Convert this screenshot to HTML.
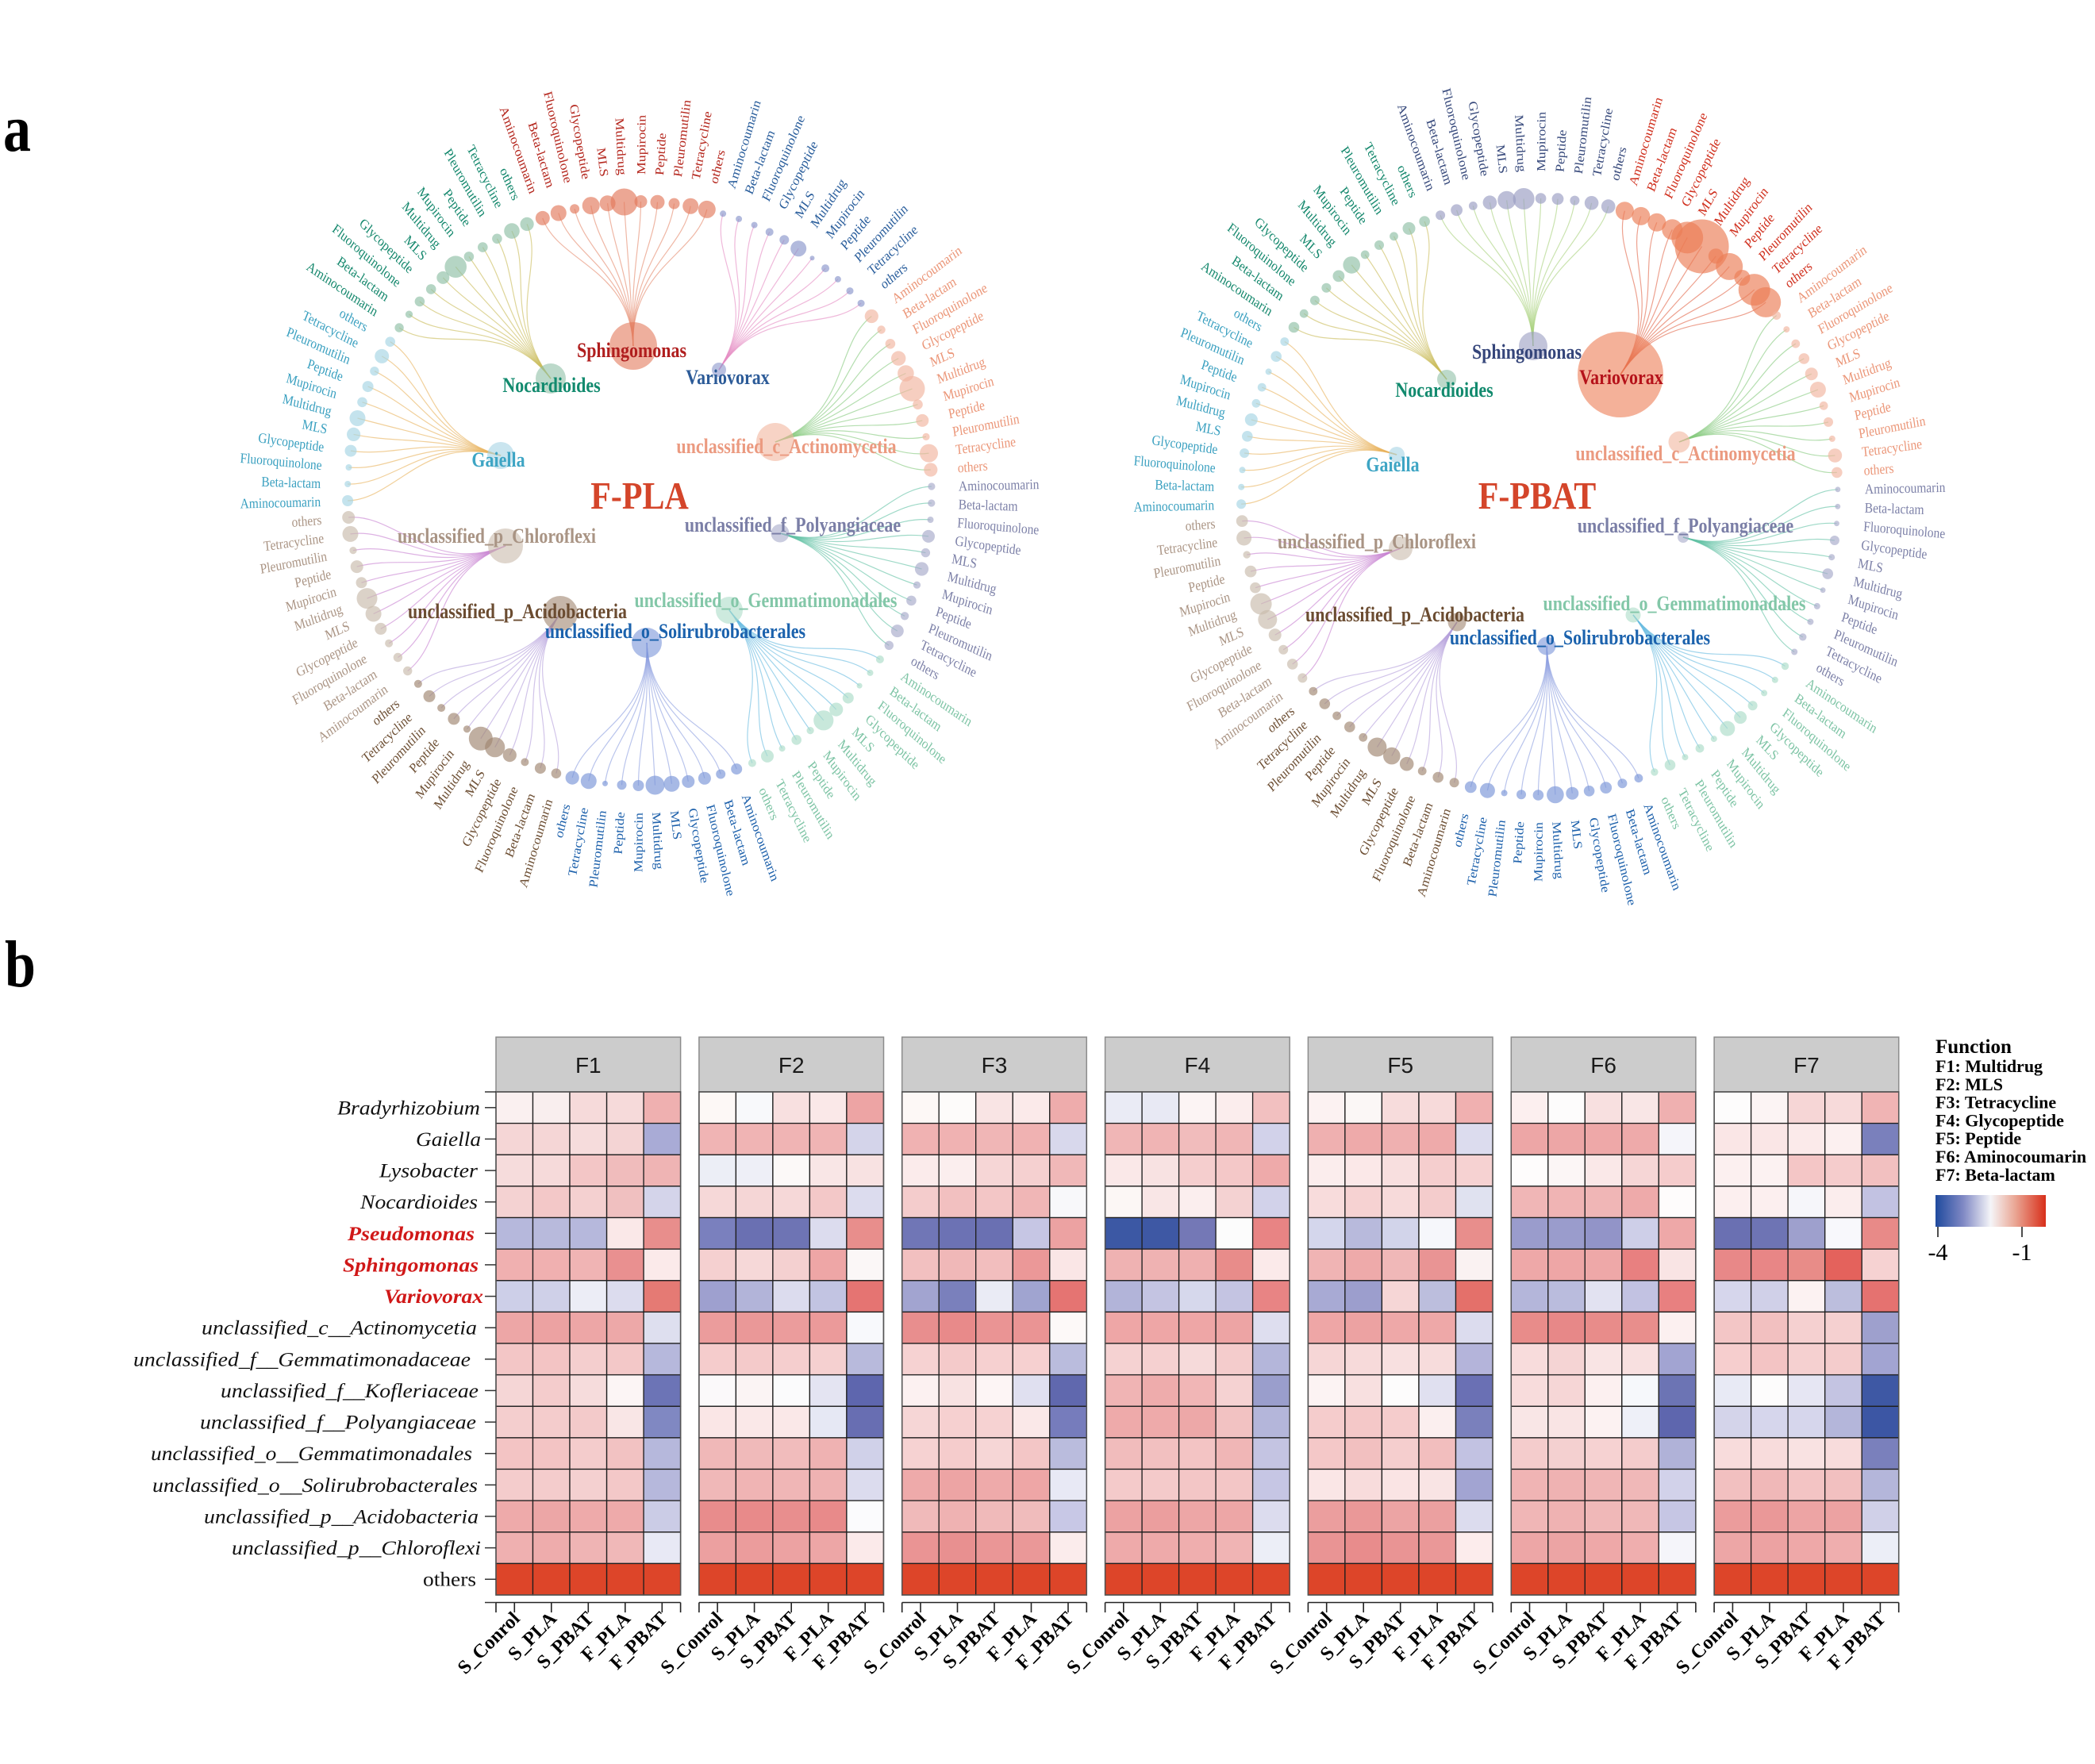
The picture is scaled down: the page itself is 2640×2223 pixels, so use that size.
<!DOCTYPE html>
<html><head><meta charset="utf-8"><title>chart</title>
<style>html,body{margin:0;padding:0;background:#fff;overflow:hidden}svg{display:block}</style>
</head><body>
<svg id="c" xmlns="http://www.w3.org/2000/svg" width="2640" height="2223" viewBox="0 0 2640 2223"></svg>
<script>
(function(){
var o=[];
var SER="font-family=\"'Liberation Serif', serif\"";
var SANS="font-family=\"'Liberation Sans', sans-serif\"";
var CL=['Aminocoumarin','Beta-lactam','Fluoroquinolone','Glycopeptide','MLS','Multidrug','Mupirocin','Peptide','Pleuromutilin','Tetracycline','others'];
var GN=['Sphingomonas','Variovorax','unclassified_c_Actinomycetia','unclassified_f_Polyangiaceae','unclassified_o_Gemmatimonadales','unclassified_o_Solirubrobacterales','unclassified_p_Acidobacteria','unclassified_p_Chloroflexi','Gaiella','Nocardioides'];
function G(n,l,lc,bc,kc,tc,s){return {n:n,l:l,lc:lc,bc:bc,kc:kc,tc:tc,s:s};}
var P1={cx:806,cy:622,R:368,t0:-19.4,title:'F-PLA',tx:806,ty:641,g:[
 G([798,436,30],[796,450],'#b01e1e','#e27a5c','#e58a6e','#b5281f',[9,10,6,11,10,17,8,9,7,10,11]),
 G([906,466,9],[917,484],'#2c5b98','#8a96cc','#e58cc4','#2a5e9c',[4,4,4,5,6,10,3,5,4,4.5,4.5]),
 G([977,557,24],[991,571],'#eb9a80','#f2b59f','#86c97e','#eb9678',[8.6,5.2,6.3,9.2,10.3,16,6.3,8,4.6,11.5,8.6]),
 G([983,672,11.5],[999,670],'#7a7ea6','#a7aaca','#62c2a4','#7d81a8',[4.6,4.6,4,8,5.7,8.6,4.6,6.3,5.2,8,5.7]),
 G([919,769,17],[965,765],'#83c7a8','#acdcc8','#69bce0','#7ec4a5',[5,4,3.5,7,8.6,12.6,4.6,6.3,4,8,5]),
 G([815,810,19],[851,804],'#1b62ad','#7a94d8','#8ea0e0','#1f62ac',[7,6,8,8,10,12,7,6,3.5,10,8.6]),
 G([706,773,22],[652,779],'#6b4c31','#a08670','#b5a0dc','#6e5035',[6.3,7,5,8.6,12.6,15,4.6,7.5,5,7.5,5]),
 G([637,688,22],[626,684],'#a99484','#c9baac','#c882d2','#ab9585',[5.7,5.7,5,7.5,10,13,7,8,4.6,10,8]),
 G([631,574,17],[628,588],'#3ea5c4','#a6d4e4','#e9b35e','#3aa0c0',[7,4,4,7.5,8.6,10,6.3,7,5.7,9,6.3]),
 G([694,477,19],[695,494],'#128a6e','#8fbfa6','#c9bb58','#15886d',[5.7,4.6,6.3,6.3,8,13.8,6.3,6.3,6.3,9.8,8.6])
]};
var P2={cx:1940,cy:626,R:376,t0:-19.4,title:'F-PBAT',tx:1937,ty:641,g:[
 G([1932,436,18],[1924,452],'#35457a','#9a9cc2','#a9d27e','#384a7c',[6,7.4,5.4,8.8,11.5,13.5,6.8,7.4,6,8.8,8.8]),
 G([2042,472,54],[2043,484],'#b5121a','#ec7d55','#e2684a','#d0301e',[11.5,11.5,11.5,13,20,34,9.5,17,10,20,19]),
 G([2116,557,13.5],[2124,580],'#eb9a80','#f2b59f','#86c97e','#eb9678',[5.4,4,5.4,6.8,8,10,5.4,6,4,8.8,6.8]),
 G([2121,677,7],[2124,671],'#7a7ea6','#a7aaca','#62c2a4','#7d81a8',[3.4,3.4,3.4,6,4,6.8,3.4,4,4,4.7,4]),
 G([2058,775,9.5],[2110,769],'#83c7a8','#acdcc8','#69bce0','#7ec4a5',[4.7,4,4,6,8,9.5,4,5.4,4,6.8,4.7]),
 G([1949,814,11.5],[1991,812],'#1b62ad','#7a94d8','#8ea0e0','#1f62ac',[5.4,6,7.4,6.8,8,10.8,6.8,6,4,9.5,7.4]),
 G([1836,784,11.5],[1783,783],'#6b4c31','#a08670','#b5a0dc','#6e5035',[6,6.8,5.4,8.8,10.8,12,5.4,6.8,5.4,6.8,5.4]),
 G([1765,691,15],[1735,691],'#a99484','#c9baac','#c882d2','#ab9585',[6,6.8,6,8,12,13.5,6.8,7.4,4.7,9.5,7.4]),
 G([1760,573,10],[1755,594],'#3ea5c4','#a6d4e4','#e9b35e','#3aa0c0',[6,4,4,6,6.8,8,5.4,5.4,4,6.8,5.4]),
 G([1823,478,12],[1820,500],'#128a6e','#8fbfa6','#c9bb58','#15886d',[6.8,5.4,6,6,7.4,10.8,5.4,6,5.4,8,6.8])
]};
function f(v){return Math.round(v*10)/10;}
var SY=1.15;
function radial(P){
 var L=[],B=[],N=[],TL=[],NL=[];
 for(var g=0;g<10;g++){
  var Q=P.g[g], nx=Q.n[0], ny=Q.n[1];
  var ux=nx-P.cx, uy=ny-P.cy, ul=Math.hypot(ux,uy)||1; ux/=ul; uy/=ul;
  for(var k=0;k<11;k++){
   var i=g*11+k, th=(P.t0+i*360/110)*Math.PI/180;
   var s=Math.sin(th), c=Math.cos(th);
   var lx=P.cx+P.R*s, ly=P.cy-P.R*c;
   var d=Math.hypot(lx-nx,ly-ny);
   var c1x=nx+ux*d*0.5, c1y=ny+uy*d*0.5;
   var c2x=lx-s*d*0.3, c2y=ly+c*d*0.3;
   L.push('<path d="M'+f(nx)+' '+f(ny)+'C'+f(c1x)+' '+f(c1y)+' '+f(c2x)+' '+f(c2y)+' '+f(lx)+' '+f(ly)+'" stroke="'+Q.kc+'"/>');
   B.push('<circle cx="'+f(lx)+'" cy="'+f(ly)+'" r="'+Q.s[k]+'" fill="'+Q.bc+'"/>');
   var rl=P.R+34, tx=P.cx+rl*s, ty=P.cy-rl*c;
   var dx=s, dy=-c, anc='start';
   if(s<0){dx=-s;dy=c;anc='end';}
   var ang=Math.atan2(dy/SY,dx)*180/Math.PI;
   TL.push('<text transform="translate('+f(tx)+','+f(ty)+') scale(1,'+SY+') rotate('+f(ang)+')" text-anchor="'+anc+'" dy="0.35em" fill="'+Q.tc+'">'+CL[k]+'</text>');
  }
  N.push('<circle cx="'+nx+'" cy="'+ny+'" r="'+Q.n[2]+'" fill="'+Q.bc+'"/>');
  NL.push('<text transform="translate('+Q.l[0]+','+Q.l[1]+') scale(1,1.2)" text-anchor="middle" fill="'+Q.lc+'">'+GN[g]+'</text>');
 }
 o.push('<g fill="none" stroke-width="1.2" stroke-opacity="0.62">'+L.join('')+'</g>');
 o.push('<g fill-opacity="0.66">'+B.join('')+'</g>');
 o.push('<g fill-opacity="0.6">'+N.join('')+'</g>');
 o.push('<g '+SER+' font-size="15.5">'+TL.join('')+'</g>');
 o.push('<g '+SER+' font-size="22" font-weight="bold">'+NL.join('')+'</g>');
 o.push('<text transform="translate('+P.tx+','+P.ty+') scale(1,1.15)" text-anchor="middle" '+SER+' font-size="42" font-weight="bold" fill="#d4452a">'+P.title+'</text>');
}
radial(P1); radial(P2);
o.push('<text transform="translate(4,190) scale(1,1.2)" '+SER+' font-size="70" font-weight="bold" fill="#000">a</text>');
o.push('<text transform="translate(6,1243) scale(1,1.2)" '+SER+' font-size="70" font-weight="bold" fill="#000">b</text>');

/* heatmap */
var HM=[
["faf0f0 f9eeee f6dada f6dada efb0b0","f5d6d6 f5d6d6 f6dcdc f4d4d4 a9abd6","f6dcdc f6dada f3c6c6 f0bcbc efb4b4","f4d2d2 f3c8c8 f4d0d0 f0c0c0 d4d4ea","b6b8dc b8badc b6b8dc fae8e8 e88e8c","f0b0b0 f0b0b0 f0b4b4 e99090 fbeaea","cdcfe8 cfd0e8 ecedf6 dcdcee e57a74","eda6a6 eca2a2 eda6a6 eda8a8 dedfef","f3c6c6 f3c4c4 f4cece f3c8c8 b6b8dc","f5d6d6 f4cccc f6dcdc fcf5f5 6c74b6","f4cece f4cccc f3caca f9e6e6 8088c2","f3c4c4 f3c4c4 f4cccc f2c2c2 b6b8dc","f4cccc f4cccc f4d0d0 f3c8c8 b6b8dc","eeaaaa eca6a6 eeaaaa eeaaaa cbcce6","efb0b0 eeacac efb4b4 f0b8b8 e8e9f5"],
["fdf8f6 f8f9fb f8e0e0 fae8e8 eda4a4","f0b4b4 f0b4b4 f0b4b4 f0b4b4 d4d4ea","eceef6 eeeff7 fcf9f8 f9e6e6 f8e2e2","f6d8d8 f5d6d6 f6d8d8 f3c8c8 dcdcee","7a80be 6a70b2 6e74b4 dcdcee e88e8c","f5d0d0 f6d8d8 f4d0d0 eea6a6 fbf7f7","9ea0cf b2b4d9 dcdcee c2c4e2 e57472","eb9c9c ea9898 eb9c9c eb9a9a f8f9fc","f5cccc f4caca f5cece f5d0d0 b8badc","fbf9fa fbf4f4 fbfbfc e4e4f2 5e66ae","fae6e6 fae8e8 fae8e8 e6e8f4 686eb2","f0b8b8 f0baba f1bcbc efb2b2 d0d1e9","f0b8b8 f0b4b4 f0b6b6 efb2b2 dcdcee","e88c8c e88a8a e88e8e e88a8a fbfbfd","eca0a0 eb9c9c eca2a2 eda6a6 fbeaea"],
["fdf8f6 fdfbfa f9e4e4 fbeaea eeacac","f0b2b2 f0b2b2 f0b6b6 f0b2b2 d8d8ec","fbebeb fbeeee f6d6d6 f5d0d0 f0b8b8","f4cccc f2c0c0 f3c6c6 f0b6b6 f8f8fa","7076b6 6c72b4 6a70b2 c6c6e4 eca2a2","f2c0c0 f0b8b8 f2bebe eb9898 fae6e6","a2a4d0 7a80bc eaebf5 a0a4d0 e57472","e88e8e e88a8a ea9494 ea9494 fdf9f8","f6d2d2 f4caca f6d0d0 f6d0d0 babcdd","fcf1f1 f8e2e2 fdf5f5 e0e0f0 6068ae","f6d6d6 f6d0d0 f6d2d2 fae8e8 767cbc","f6d2d2 f5cccc f6d6d6 f3c6c6 babcdd","eeaaaa eda4a4 eeaaaa eea6a6 e8e9f5","f0baba efb2b2 f0baba f0bcbc c8c8e6","ea9494 e89090 ea9696 ea9898 fbecec"],
["eaebf5 e8e9f4 fcf4f4 fbeded f2c0c0","f0b6b6 f0b4b4 f1bcbc f0b6b6 d2d2ea","fae8e8 f8e2e2 f5cece f4c8c8 eeaaaa","fcf7f5 f9e6e6 fbeeee f4d2d2 d2d2ea","3c58a4 3e58a4 7478b6 fcfcfc e88484","efb2b2 efb2b2 efb0b0 e88c8a fbeaea","b2b4d9 c4c4e2 d6d8ec c4c4e2 e88484","eea6a6 eea6a6 eea6a6 eda4a4 dedeef","f5d2d2 f5d0d0 f6dada f4cccc b4b6da","f0b4b4 eeacac f1b6b6 f5d2d2 9a9ecc","eeaaaa eeaaaa eda8a8 f2c2c2 b4b6da","f1bcbc f2c0c0 f3c4c4 f0b6b6 c4c4e2","f4caca f4caca f3c6c6 f3c6c6 c6c6e4","eca2a2 eb9e9e eda6a6 eda6a6 dcdcee","eeaaaa eeaaaa efaeae f0b4b4 eceef7"],
["fcf2f2 fbf7f6 f7dcdc f7dada f0b0b0","efb0b0 eeaaaa efb0b0 eeaaaa dcdcee","fbeded fbe8e8 f8dfdf f5cece f6d2d2","f8dcdc f6d2d2 f7dada f4cccc e0e2f0","d4d6ec b8badc d2d4ea f6f7fb e88e8c","f0b4b4 eeaaaa f0b8b8 e99494 faf2f2","a8aad4 9c9ecd f6d6d6 bcbedd e4706a","eea6a6 eca2a2 eea8a8 eea8a8 dcdcee","f6d6d6 f7dada f8e0e0 f7dcdc b4b4da","fcf3f3 f8e0e0 fdfcfc e0e0f0 6a70b4","f5cccc f4c8c8 f5cccc fbefef 7a80bc","f4c8c8 f2c0c0 f5cece f2bebe c2c2e2","fae6e6 f8dcdc fae4e4 f9e4e4 a2a4d2","eb9e9e ea9898 eca4a4 eba0a0 dcdcee","e99494 e88c8c e99494 ea9898 fcecec"],
["fcefef fdfcfc f8e0e0 f9e6e6 efb0b0","eda6a6 eda6a6 eea8a8 eeaaaa f5f5fa","fefcfc fcf6f6 fae8e8 f6d6d6 f5cccc","f0b6b6 f0b4b4 f0b6b6 eeaaaa fefcfc","9a9ccc 9a9ccc 9294c8 cecfe8 eea8a8","eea8a8 eea6a6 eea8a8 e88080 f9e4e4","b4b6da babcdd e2e2f1 c2c2e2 e88080","e88c8a e78888 e88c8a e88e8c fcf0f0","f8dcdc f5d4d4 f9e4e4 f8e0e0 a2a4d2","f8dcdc f6d6d6 fcf0f0 f6f8fb 6c74b4","f9e6e6 f9e4e4 fcf2f2 eef0f8 5e66ae","f4cccc f4d0d0 f6d2d2 f4cccc b0b2d8","f0b4b4 efb2b2 f0b6b6 f0b8b8 d2d2ea","f0b6b6 efb2b2 f0b8b8 f0b8b8 c6c6e4","eda6a6 eca4a4 eea8a8 efaeae f5f5fa"],
["fdfcfc fcf4f4 f6d6d6 f7dada f0b4b4","fae6e6 fae6e6 fbeaea fcf0f0 7a80bc","fcf0f0 fcf2f2 f4c6c6 f5cccc f2c0c0","fcefef fcefef f6f6fa fbeded c2c2e2","6a70b2 6e74b4 9ea0cd f8f8fc e88a88","e88888 e88686 e88c88 e4625c f6d2d2","d6d6ec d0d0e8 fcf2f2 bcbedd e57270","f3c6c6 f2c0c0 f5d0d0 f5d0d0 9ea0cd","f6cece f3c4c4 f5d0d0 f4cccc a2a4d2","e8eaf5 fdfcfc e6e6f3 c4c4e2 3e58a4","d4d4ea d6d6ec d6d6ec b4b6da 3c56a4","f8dcdc f8dcdc f9e2e2 f8dcdc 7a80bc","f2c0c0 f0b8b8 f3c4c4 f2c0c0 b4b6da","eb9c9c ea9898 eda4a4 eca2a2 d0d0e8","eda6a6 eca2a2 eea8a8 efaeae eceef7"]
];
var X0=625, PS=255.85, PW=232.6, CW=PW/5, HT=1307, TOP=1376, RH=39.625, BOT=TOP+16*RH;
var XL=['S_Conrol','S_PLA','S_PBAT','F_PLA','F_PBAT'];
for(var p=0;p<7;p++){
 var x0=X0+p*PS;
 o.push('<rect x="'+f(x0)+'" y="'+HT+'" width="'+PW+'" height="'+(TOP-HT)+'" fill="#cccccc" stroke="#8c8c8c" stroke-width="1.5"/>');
 o.push('<text x="'+f(x0+PW/2)+'" y="1352" text-anchor="middle" '+SANS+' font-size="28" fill="#1a1a1a">F'+(p+1)+'</text>');
 var cells=[];
 for(var r=0;r<16;r++){
  var cols = r<15 ? HM[p][r].split(' ') : ['dd4529','dd4529','dd4529','dd4529','dd4529'];
  for(var c=0;c<5;c++){
   cells.push('<rect x="'+f(x0+c*CW)+'" y="'+f(TOP+r*RH)+'" width="'+f(CW)+'" height="'+f(RH)+'" fill="#'+cols[c]+'"/>');
  }
 }
 o.push('<g stroke="#1e1e1e" stroke-width="1.3">'+cells.join('')+'</g>');
 o.push('<rect x="'+f(x0)+'" y="'+TOP+'" width="'+PW+'" height="'+f(BOT-TOP)+'" fill="none" stroke="#555" stroke-width="1.5"/>');
 var ax='<g stroke="#222" stroke-width="1.6"><line x1="'+f(x0)+'" y1="2019.5" x2="'+f(x0+PW)+'" y2="2019.5"/>';
 ax+='<line x1="'+f(x0)+'" y1="2019.5" x2="'+f(x0)+'" y2="2032"/><line x1="'+f(x0+PW)+'" y1="2019.5" x2="'+f(x0+PW)+'" y2="2032"/>';
 for(var c=0;c<5;c++){var cx=x0+(c+0.5)*CW; ax+='<line x1="'+f(cx)+'" y1="2019.5" x2="'+f(cx)+'" y2="2032"/>';}
 o.push(ax+'</g>');
 for(var c=0;c<5;c++){
  var cx=x0+(c+0.5)*CW;
  o.push('<text transform="translate('+f(cx+8)+',2041) rotate(-45)" text-anchor="end" '+SER+' font-size="24.5" font-weight="bold" fill="#000">'+XL[c]+'</text>');
 }
}
/* row labels */
var RL=[['Bradyrhizobium',605,180,0],['Gaiella',606,82,0],['Lysobacter',602,124,0],['Nocardioides',602,148,0],['Pseudomonas',598,160,1],['Sphingomonas',603,171,1],['Variovorax',609,125,1],['unclassified_c__Actinomycetia',601,347,0],['unclassified_f__Gemmatimonadaceae',593,425,0],['unclassified_f__Kofleriaceae',603,325,0],['unclassified_f__Polyangiaceae',600,348,0],['unclassified_o__Gemmatimonadales',595,405,0],['unclassified_o__Solirubrobacterales',602,410,0],['unclassified_p__Acidobacteria',603,346,0],['unclassified_p__Chloroflexi',606,314,0],['others',600,67,2]];
var rt='<g stroke="#333" stroke-width="1.5"><line x1="611" y1="'+TOP+'" x2="625" y2="'+TOP+'"/><line x1="611" y1="2019.5" x2="625" y2="2019.5"/>';
for(var r=0;r<16;r++){
 var yc=TOP+(r+0.5)*RH, R0=RL[r];
 rt+='<line x1="611" y1="'+f(yc)+'" x2="625" y2="'+f(yc)+'"/>';
 var st = R0[3]==2 ? '' : ' font-style="italic"';
 if(R0[3]==1) st+=' font-weight="bold"';
 var col = R0[3]==1 ? '#d01818' : '#111';
 o.push('<text x="'+R0[1]+'" y="'+f(yc+8.5)+'" text-anchor="end" '+SER+' font-size="25"'+st+' fill="'+col+'" textLength="'+R0[2]+'" lengthAdjust="spacingAndGlyphs">'+R0[0]+'</text>');
}
o.push(rt+'</g>');
/* legend */
o.push('<text x="2439" y="1327" '+SER+' font-size="25" font-weight="bold" fill="#000">Function</text>');
var LG=['F1: Multidrug','F2: MLS','F3: Tetracycline','F4: Glycopeptide','F5: Peptide','F6: Aminocoumarin','F7: Beta-lactam'];
for(var i=0;i<7;i++){o.push('<text x="2439" y="'+f(1351+i*22.8)+'" '+SER+' font-size="22" font-weight="bold" fill="#000">'+LG[i]+'</text>');}
o.push('<defs><linearGradient id="gb" x1="0" y1="0" x2="1" y2="0"><stop offset="0" stop-color="#1f4a9e"/><stop offset="0.25" stop-color="#7f88c4"/><stop offset="0.5" stop-color="#f5f5f8"/><stop offset="0.72" stop-color="#eaa795"/><stop offset="1" stop-color="#d82f1a"/></linearGradient></defs>');
o.push('<rect x="2439" y="1506" width="139" height="40" fill="url(#gb)"/>');
o.push('<g stroke="#222" stroke-width="1.6"><line x1="2442" y1="1546" x2="2442" y2="1559"/><line x1="2548" y1="1546" x2="2548" y2="1559"/></g>');
o.push('<text x="2442" y="1588" text-anchor="middle" '+SER+' font-size="30" fill="#000">-4</text>');
o.push('<text x="2548" y="1588" text-anchor="middle" '+SER+' font-size="30" fill="#000">-1</text>');
document.getElementById('c').innerHTML=o.join('');
})();
</script>
</body></html>
